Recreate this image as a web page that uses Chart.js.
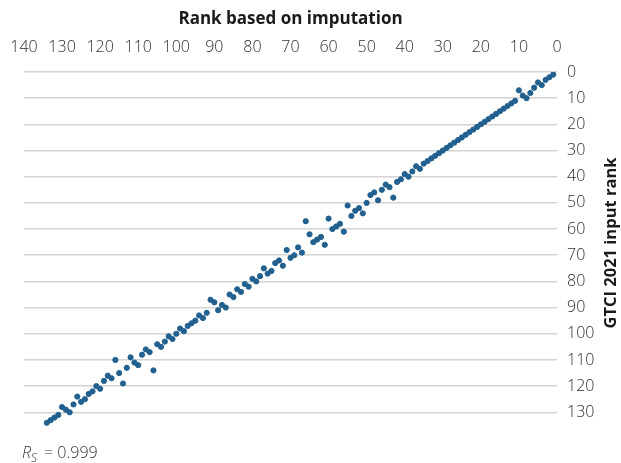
<html>
<head>
<script src="https://cdn.jsdelivr.net/npm/chart.js"></script>
<style>
    body { margin: 0; background: #fff; }
</style>
</head>
<body>
<canvas id="rankChart" width="621" height="463"></canvas>
<script>
    // rank based on imputation (x) vs GTCI 2021 input rank (y)
    const imputationRank = [
        1, 2, 3, 4, 5, 6, 7, 8, 9, 10, 11, 12, 13, 14, 15, 16, 17, 18, 19, 20,
        21, 22, 23, 24, 25, 26, 27, 28, 29, 30, 31, 32, 33, 34, 35, 36, 37, 38, 39, 40,
        41, 42, 43, 44, 45, 46, 47, 48, 49, 50, 51, 52, 53, 54, 55, 56, 57, 58, 59, 60,
        61, 62, 63, 64, 65, 66, 67, 68, 69, 70, 71, 72, 73, 74, 75, 76, 77, 78, 79, 80,
        81, 82, 83, 84, 85, 86, 87, 88, 89, 90, 91, 92, 93, 94, 95, 96, 97, 98, 99, 100,
        101, 102, 103, 104, 105, 106, 107, 108, 109, 110, 111, 112, 113, 114, 115, 116, 117, 118, 119, 120,
        121, 122, 123, 124, 125, 126, 127, 128, 129, 130, 131, 132, 133, 134
    ];
    const inputRank = [
        1, 2, 3, 5, 4, 6, 8, 10, 9, 7, 11, 12, 13, 14, 15, 16, 17, 18, 19, 20,
        21, 22, 23, 24, 25, 26, 27, 28, 29, 30, 31, 32, 33, 34, 35, 37, 36, 38, 40, 39,
        41, 42, 48, 44, 43, 45, 49, 46, 47, 50, 54, 52, 53, 55, 51, 61, 58, 59, 60, 56,
        66, 63, 64, 65, 62, 57, 69, 67, 70, 71, 68, 74, 72, 73, 76, 77, 75, 78, 80, 79,
        82, 81, 84, 83, 86, 85, 90, 89, 91, 88, 87, 92, 94, 93, 95, 96, 97, 99, 98, 100,
        102, 101, 103, 105, 104, 114, 107, 106, 108, 112, 111, 109, 113, 119, 115, 110, 117, 116, 118, 121,
        120, 122, 123, 125, 126, 124, 127, 130, 129, 128, 131, 132, 133, 134
    ];
    const yTickValues = [0, 10, 20, 30, 40, 50, 60, 70, 80, 90, 100, 110, 120, 130];
    const xTitle = 'Rank based on imputation';
    const yTitle = 'GTCI 2021 input rank';
    const rsValue = '0.999';

    const points = imputationRank.map((x, i) => ({ x: x, y: inputRank[i] }));

    const extraText = {
        id: 'extraText',
        afterDraw(chart) {
            const ctx = chart.ctx;
            ctx.save();
            ctx.translate(611, 243);
            ctx.rotate(-Math.PI / 2);
            ctx.font = 'bold 16.5px "Open Sans"';
            ctx.fillStyle = '#1a1a1a';
            ctx.textAlign = 'center';
            ctx.textBaseline = 'middle';
            ctx.fillText(yTitle, 0, 0);
            ctx.restore();

            // R_S = 0.999
            ctx.save();
            ctx.fillStyle = '#333';
            ctx.textBaseline = 'alphabetic';
            let x = 22;
            const base = 458;
            ctx.font = 'italic 300 16px "Open Sans"';
            ctx.fillText('R', x, base);
            x += ctx.measureText('R').width;
            ctx.font = 'italic 300 12px "Open Sans"';
            ctx.fillText('S', x, base + 4);
            x += ctx.measureText('S').width + 7;
            ctx.font = '300 16px "Open Sans"';
            ctx.fillText('= ' + rsValue, x, base);
            ctx.restore();
        }
    };

    new Chart(document.getElementById('rankChart'), {
        type: 'scatter',
        data: {
            datasets: [{
                data: points,
                backgroundColor: '#22608f',
                borderColor: '#22608f',
                pointRadius: 2.6,
                pointHoverRadius: 2.6
            }]
        },
        options: {
            responsive: false,
            animation: false,
            layout: {
                padding: { left: 24, bottom: 35, top: 0, right: 0 }
            },
            plugins: {
                legend: { display: false },
                tooltip: { enabled: false }
            },
            scales: {
                x: {
                    type: 'linear',
                    position: 'top',
                    reverse: true,
                    min: 0,
                    max: 140,
                    ticks: {
                        stepSize: 10,
                        padding: 7,
                        maxRotation: 0,
                        color: '#2e2e2e',
                        font: { family: 'Open Sans', size: 16, weight: 300 }
                    },
                    grid: { display: false },
                    border: { display: false },
                    title: {
                        display: true,
                        text: xTitle,
                        color: '#1a1a1a',
                        font: { family: 'Open Sans', size: 17, weight: 'bold' },
                        padding: { top: 9, bottom: 0 }
                    },
                    afterFit(scale) { scale.height = 72; }
                },
                y: {
                    type: 'linear',
                    position: 'right',
                    reverse: true,
                    min: 0,
                    max: 136,
                    afterBuildTicks(scale) {
                        scale.ticks = yTickValues.map(v => ({ value: v }));
                    },
                    ticks: {
                        padding: 10,
                        color: '#2e2e2e',
                        font: { family: 'Open Sans', size: 16, weight: 300 }
                    },
                    grid: {
                        color: '#d4d4d4',
                        lineWidth: 1.5,
                        drawTicks: false
                    },
                    border: { display: false },
                    afterFit(scale) { scale.width = 64; }
                }
            }
        },
        plugins: [extraText]
    });
</script>
</body>
</html>
